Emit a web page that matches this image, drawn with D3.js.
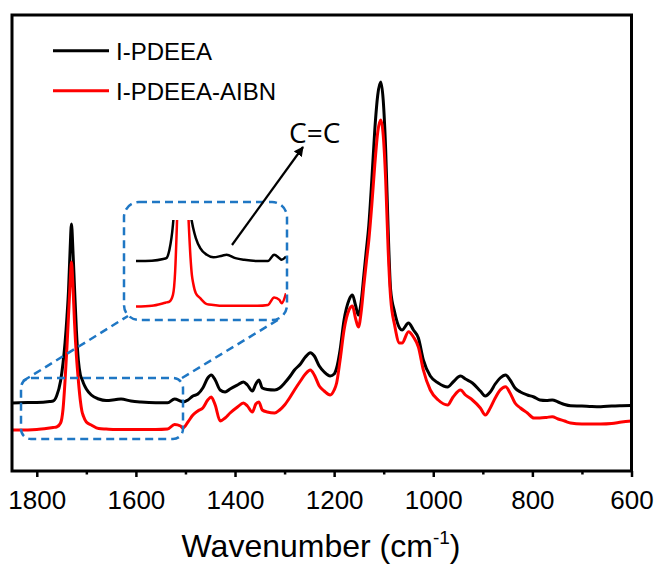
<!DOCTYPE html>
<html>
<head>
<meta charset="utf-8">
<script src="https://cdn.jsdelivr.net/npm/d3@7"></script>
<style>
  html, body { margin: 0; padding: 0; background: #fff; }
  svg { display: block; }
</style>
</head>
<body>
<svg id="chart" width="656" height="564"></svg>
<script>
// FTIR spectra, wavenumber grid shared by both samples (cm-1)
const wavenumbers = [1850,1836,1800,1774,1767,1760,1752,1747,1743,1739,1736,1733,1730,1727,1724,1720,1716,1712,1709,1706,1700,1690,1675,1660,1640,1630,1610,1590,1560,1536,1522,1510,1505,1495,1485,1475,1465,1455,1448,1440,1430,1420,1410,1395,1383,1375,1365,1358,1352,1345,1335,1320,1310,1300,1290,1280,1268,1258,1248,1240,1230,1220,1208,1200,1195,1188,1180,1170,1163,1157,1151,1145,1140,1135,1130,1124,1118,1112,1106,1101,1096,1091,1086,1078,1068,1063,1050,1040,1030,1020,1006,990,971,960,945,935,921,905,895,885,875,865,854,845,835,824,810,797,785,772,760,748,735,723,700,680,662,640,620,600];

// Absorbance (arbitrary units)
const pdeea = [68,68.3,68.5,69.5,70,75,90,108,128,155,180,218,247,220,185,140,110,96,92,88,82,76,72,70.5,71.5,72,70,69,68.3,68.3,72,70,69,71,75,77,83,93,96,91,81,79,82,86,89,86,80,87,91,83,81.5,81,83,88,94,101,107,114,118.3,115,105,99,95,97,103,121,151,171,176,166,156,171,196,221,246,291,341,376,389,371,321,241,181,159,143,141,148,141,133,111,95,88,84,89,95,92,88,80,75,79,87,93,96,91,83,79,76,74,71,70.5,71,69,66.5,65.3,65,64.5,64.3,65,65.3,65.5];

const pdeeaAibn = [41,41,41.5,43,43.5,44,48,62,90,125,155,185,209,185,150,115,90,70,60,55,49,46,42.5,42,41.5,41.5,41.5,41.5,41.5,42,46.5,45,43,49,56,60,63,71,74,66,50,53,58,64,68,65,59,67,69,61,59,58,61,66,73,81,90,97,101,96,85,80,76,81,88,111,141,161,165,153,144,161,186,209,231,266,306,339,351,336,291,221,173,146,128,128,139.3,134,124,101,81,71,66,74,81,76,71,63,56,63,73,81,84.3,78,68,63,58,53,53,53.5,54.3,52,50,48,47,47,47,47.5,49,50];

const seriesNames = ["I-PDEEA", "I-PDEEA-AIBN"];
const seriesColors = ["#000000", "#ff0000"];
const xTicks = [1800, 1600, 1400, 1200, 1000, 800, 600];
const xMinorTicks = [1700, 1500, 1300, 1100, 900, 700];
const zoomRange = [1836, 1495];          // wavenumber window shown enlarged
const zoomValueRange = [68.3, 92.85];     // absorbance window shown enlarged

const series = [pdeea, pdeeaAibn].map((vals, i) => ({
  name: seriesNames[i],
  color: seriesColors[i],
  points: wavenumbers.map((w, j) => ({ w, v: vals[j] }))
}));

const svg = d3.select("#chart");
const FONT = "'Liberation Sans', Arial, sans-serif";

// Plot frame
const plot = { left: 12, right: 631.5, top: 15, bottom: 471 };
const x = d3.scaleLinear().domain([1850, 600]).range([plot.left, plot.right]);
const y = d3.scaleLinear().domain([0, 456]).range([plot.bottom, plot.top]);

const line = d3.line().x(d => x(d.w)).y(d => y(d.v)).curve(d3.curveMonotoneX);

const gLines = svg.append("g");
series.forEach(s => {
  gLines.append("path")
    .datum(s.points)
    .attr("fill", "none")
    .attr("stroke", s.color)
    .attr("stroke-width", 3)
    .attr("stroke-linejoin", "round")
    .attr("d", line);
});

// Enlarged view of the carbonyl / vinyl region
const inset = { left: 136, right: 286, top: 220, bottom: 320 };
const xi = d3.scaleLinear().domain(zoomRange).range([inset.left, inset.right]);
const yi = d3.scaleLinear().domain(zoomValueRange).range([261, inset.top]);
const lineInset = d3.line().x(d => xi(d.w)).y(d => yi(d.v)).curve(d3.curveMonotoneX);

svg.append("clipPath").attr("id", "insetClip")
  .append("rect")
  .attr("x", inset.left).attr("y", inset.top)
  .attr("width", inset.right - inset.left).attr("height", inset.bottom - inset.top);

const gInset = svg.append("g").attr("clip-path", "url(#insetClip)");
series.forEach(s => {
  gInset.append("path")
    .datum(s.points.filter(p => p.w <= zoomRange[0] + 5 && p.w >= zoomRange[1] - 5))
    .attr("fill", "none")
    .attr("stroke", s.color)
    .attr("stroke-width", 2.5)
    .attr("stroke-linejoin", "round")
    .attr("d", lineInset);
});

// Dashed callout boxes and connectors
const blue = "#1f77c4";
const dash = "8,5";
const dashed = sel => sel.attr("fill", "none").attr("stroke", blue)
  .attr("stroke-width", 2.5).attr("stroke-dasharray", dash);

svg.append("rect").call(dashed)
  .attr("x", 21).attr("y", 378).attr("width", 162).attr("height", 61)
  .attr("rx", 10).attr("ry", 10);
svg.append("rect").call(dashed)
  .attr("x", 124).attr("y", 202).attr("width", 163).attr("height", 118)
  .attr("rx", 15).attr("ry", 15);
svg.append("line").call(dashed)
  .attr("x1", 23).attr("y1", 381).attr("x2", 128).attr("y2", 316);
svg.append("line").call(dashed)
  .attr("x1", 182).attr("y1", 378).attr("x2", 281).attr("y2", 318);

// Arrow pointing out the C=C band
svg.append("defs").append("marker")
  .attr("id", "arrowHead")
  .attr("viewBox", "0 0 10 10")
  .attr("refX", 9).attr("refY", 5)
  .attr("markerWidth", 4.5).attr("markerHeight", 4.5)
  .attr("markerUnits", "strokeWidth")
  .attr("orient", "auto")
  .append("path").attr("d", "M0,0 L10,5 L0,10 z").attr("fill", "#000");

svg.append("line")
  .attr("x1", 232).attr("y1", 245).attr("x2", 303).attr("y2", 147)
  .attr("stroke", "#000").attr("stroke-width", 2.2)
  .attr("marker-end", "url(#arrowHead)");

svg.append("text")
  .attr("x", 289).attr("y", 143)
  .attr("font-family", "'Open Sans', 'Noto Sans', sans-serif")
  .attr("font-size", 28)
  .attr("fill", "#000")
  .text("C=C");

// Frame
svg.append("rect")
  .attr("x", plot.left).attr("y", plot.top)
  .attr("width", plot.right - plot.left).attr("height", plot.bottom - plot.top)
  .attr("fill", "none").attr("stroke", "#000").attr("stroke-width", 3);

// Bottom axis
const axis = svg.append("g").attr("transform", `translate(0,${plot.bottom})`);
axis.call(d3.axisBottom(x).tickValues(xTicks).tickSize(6).tickPadding(14).tickFormat(d3.format("d")));
axis.select(".domain").remove();
axis.selectAll(".tick line").attr("stroke", "#000").attr("stroke-width", 2.5);
axis.selectAll(".tick text")
  .attr("font-family", FONT).attr("font-size", 26).attr("fill", "#000");

const minor = svg.append("g").attr("transform", `translate(0,${plot.bottom})`);
minor.call(d3.axisBottom(x).tickValues(xMinorTicks).tickSize(3.5).tickFormat(""));
minor.select(".domain").remove();
minor.selectAll(".tick line").attr("stroke", "#000").attr("stroke-width", 2.5);

// Axis title
const title = svg.append("text")
  .attr("x", 321).attr("y", 557)
  .attr("text-anchor", "middle")
  .attr("font-family", FONT).attr("font-size", 32).attr("fill", "#000");
title.append("tspan").text("Wavenumber (cm");
title.append("tspan").attr("font-size", 19).attr("dy", -13).text("-1");
title.append("tspan").attr("dy", 13).text(")");

// Legend
const legend = svg.append("g");
series.forEach((s, i) => {
  const ly = 50.7 + i * 40;
  legend.append("line")
    .attr("x1", 53).attr("x2", 109).attr("y1", ly).attr("y2", ly)
    .attr("stroke", s.color).attr("stroke-width", 3);
  legend.append("text")
    .attr("x", 116).attr("y", ly + 9.3)
    .attr("font-family", FONT).attr("font-size", 24).attr("fill", "#000")
    .text(s.name);
});
</script>
</body>
</html>
